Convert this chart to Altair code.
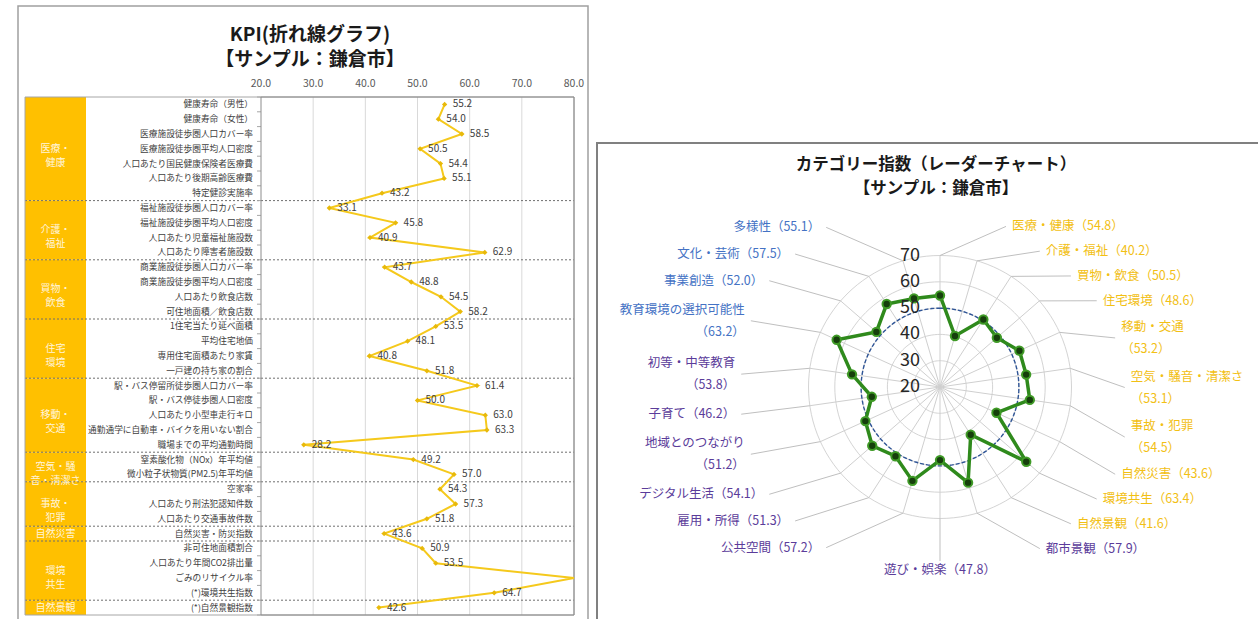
import altair as alt
import numpy as np
import pandas as pd

FONT = "Noto Sans CJK JP"

# ---------------- KPI line-chart data ----------------
KPI_GROUPS = ["医療・健康", "介護・福祉", "買物・飲食", "住宅環境", "移動・交通",
              "空気・騒音・清潔さ", "事故・犯罪", "自然災害", "環境共生", "自然景観"]
KPI_GROUP_LABELS = ["医療・\n健康", "介護・\n福祉", "買物・\n飲食", "住宅\n環境", "移動・\n交通",
                    "空気・騒\n音・清潔さ", "事故・\n犯罪", "自然災害", "環境\n共生", "自然景観"]
KPI_GROUP_SIZES = [7, 4, 4, 4, 5, 2, 3, 1, 4, 1]
KPI_INDICATORS = [
    "健康寿命（男性）", "健康寿命（女性）", "医療施設徒歩圏人口カバー率", "医療施設徒歩圏平均人口密度",
    "人口あたり国民健康保険者医療費", "人口あたり後期高齢医療費", "特定健診実施率",
    "福祉施設徒歩圏人口カバー率", "福祉施設徒歩圏平均人口密度", "人口あたり児童福祉施設数", "人口あたり障害者施設数",
    "商業施設徒歩圏人口カバー率", "商業施設徒歩圏平均人口密度", "人口あたり飲食店数", "可住地面積／飲食店数",
    "1住宅当たり延べ面積", "平均住宅地価", "専用住宅面積あたり家賃", "一戸建の持ち家の割合",
    "駅・バス停留所徒歩圏人口カバー率", "駅・バス停徒歩圏人口密度", "人口あたり小型車走行キロ",
    "通勤通学に自動車・バイクを用いない割合", "職場までの平均通勤時間",
    "窒素酸化物（NOx）年平均値", "微小粒子状物質(PM2.5)年平均値",
    "空家率", "人口あたり刑法犯認知件数", "人口あたり交通事故件数",
    "自然災害・防災指数",
    "非可住地面積割合", "人口あたり年間CO2排出量", "ごみのリサイクル率", "(*)環境共生指数",
    "(*)自然景観指数"]
KPI_VALUES = [55.2, 54.0, 58.5, 50.5, 54.4, 55.1, 43.2,
              33.1, 45.8, 40.9, 62.9,
              43.7, 48.8, 54.5, 58.2,
              53.5, 48.1, 40.8, 51.8,
              61.4, 50.0, 63.0, 63.3, 28.2,
              49.2, 57.0,
              54.3, 57.3, 51.8,
              43.6,
              50.9, 53.5, 88.0, 64.7,
              42.6]
KPI_TICKS = [20, 30, 40, 50, 60, 70, 80]

# ---------------- radar data ----------------
RADAR_NAMES = ["医療・健康", "介護・福祉", "買物・飲食", "住宅環境", "移動・交通", "空気・騒音・清潔さ",
               "事故・犯罪", "自然災害", "環境共生", "自然景観", "都市景観", "遊び・娯楽", "公共空間",
               "雇用・所得", "デジタル生活", "地域とのつながり", "子育て", "初等・中等教育",
               "教育環境の選択可能性", "事業創造", "文化・芸術", "多様性"]
RADAR_VALUES = [54.8, 40.2, 50.5, 48.6, 53.2, 53.1, 54.5, 43.6, 63.4, 41.6, 57.9, 47.8, 57.2,
                51.3, 54.1, 51.2, 46.2, 53.8, 63.2, 52.0, 57.5, 55.1]
RADAR_GROUPS = ["A", "A", "A", "A", "A", "A", "A", "A", "A", "A", "B", "B", "B",
                "B", "B", "B", "B", "B", "C", "C", "C", "C"]
RADAR_WRAPPED = ["移動・交通", "空気・騒音・清潔さ", "事故・犯罪", "地域とのつながり",
                 "初等・中等教育", "教育環境の選択可能性"]
RADAR_TICKS = [20, 30, 40, 50, 60, 70]
RADAR_AVERAGE = 50

# ---------------- layout / styles ----------------
W, H = 1258, 619
K_X20, K_X80 = 261, 574
T_TOP, T_BOTTOM = 97, 615
T_LEFT = 25
BLOCK_RIGHT = 86
LABEL_RIGHT = 253
AXIS_LABEL_Y = 84

CX, CY = 940, 387
PPU = 2.63
R_MIN = RADAR_TICKS[0]
R_SPAN = RADAR_TICKS[-1] - R_MIN
COL_TOP, COL_BOTTOM, LBL_BOTTOM_CENTER = 214, 561, 570
LINE_H = 22

ORANGE = "#FFC000"
KPI_LINE = "#F5C91C"
KPI_POINT = "#E8B90A"
GREEN = "#2F8A1C"
GROUP_COLORS = {"A": "#F2C014", "B": "#5B3C9A", "C": "#4472C4"}

# ---------------- frames ----------------
kpi_x = alt.Scale(domain=[KPI_TICKS[0], KPI_TICKS[-1]], range=[K_X20, K_X80],
                  clamp=True, nice=False, zero=False)
n_rows = len(KPI_INDICATORS)
row_y = alt.Scale(domain=[-0.5, n_rows - 0.5], range=[T_TOP, T_BOTTOM], nice=False, zero=False)

one = pd.DataFrame({"a": [0]})

left_frame = alt.Chart(one).mark_rect(fill="white", stroke="#a0a0a0", strokeWidth=1.5).encode(
    x=alt.value(18), x2=alt.value(588), y=alt.value(6), y2=alt.value(630))
right_frame = alt.Chart(one).mark_rect(fill="white", stroke="#808080", strokeWidth=2).encode(
    x=alt.value(597), x2=alt.value(1264), y=alt.value(143), y2=alt.value(630))

# ---------------- KPI data frames ----------------
kpi_df = pd.DataFrame({
    "row": np.arange(n_rows),
    "indicator": KPI_INDICATORS,
    "value": KPI_VALUES,
    "group": np.repeat(KPI_GROUPS, KPI_GROUP_SIZES),
})
sizes = np.array(KPI_GROUP_SIZES)
starts = np.concatenate([[0], np.cumsum(sizes)[:-1]])
ends = starts + sizes - 1
groups_df = pd.DataFrame({
    "group": KPI_GROUPS, "label": KPI_GROUP_LABELS,
    "y0": starts - 0.5, "y1": ends + 0.5, "mid": (starts + ends) / 2.0,
    "start": starts,
})
ticks_df = pd.DataFrame({"tick": KPI_TICKS})
bounds_df = pd.DataFrame({"b": np.arange(n_rows + 1) - 0.5})

blocks = alt.Chart(groups_df).mark_rect(color=ORANGE).encode(
    x=alt.value(T_LEFT), x2=alt.value(BLOCK_RIGHT),
    y=alt.Y("y0:Q", scale=row_y, axis=None), y2="y1:Q")
block_text = alt.Chart(groups_df).mark_text(
    color="white", fontSize=10, lineBreak="\n", font=FONT, lineHeight=14, opacity=0.85).encode(
    x=alt.value((T_LEFT + BLOCK_RIGHT) / 2), y=alt.Y("mid:Q", scale=row_y, axis=None), text="label:N")

grid = alt.Chart(ticks_df).transform_filter(
    "datum.tick > %d && datum.tick < %d" % (KPI_TICKS[0], KPI_TICKS[-1])).mark_rule(
    color="#d9d9d9", strokeWidth=1).encode(
    x=alt.X("tick:Q", scale=kpi_x, axis=None), y=alt.value(T_TOP), y2=alt.value(T_BOTTOM))
tick_text = alt.Chart(ticks_df).mark_text(fontSize=10.5, color="#595959", font=FONT).encode(
    x=alt.X("tick:Q", scale=kpi_x, axis=None), y=alt.value(AXIS_LABEL_Y),
    text=alt.Text("tick:Q", format=".1f"))
row_ticks = alt.Chart(bounds_df).mark_rule(color="#a6a6a6").encode(
    x=alt.value(K_X20 - 4), x2=alt.value(K_X20),
    y=alt.Y("b:Q", scale=row_y, axis=None))
table_box = alt.Chart(one).mark_rect(fillOpacity=0, fill="white", stroke="#a6a6a6", strokeWidth=1).encode(
    x=alt.value(T_LEFT), x2=alt.value(K_X80), y=alt.value(T_TOP), y2=alt.value(T_BOTTOM))
plot_box = alt.Chart(one).mark_rect(fillOpacity=0, fill="white", stroke="#8c8c8c", strokeWidth=1).encode(
    x=alt.value(K_X20), x2=alt.value(K_X80), y=alt.value(T_TOP), y2=alt.value(T_BOTTOM))
separators = alt.Chart(groups_df).transform_filter("datum.start > 0").mark_rule(
    color="#6f6f6f", strokeDash=[2, 2], strokeWidth=1).encode(
    y=alt.Y("y0:Q", scale=row_y, axis=None), x=alt.value(T_LEFT), x2=alt.value(K_X80))
indicator_text = alt.Chart(kpi_df).mark_text(
    align="right", fontSize=8.7, color="#404040", font=FONT).encode(
    x=alt.value(LABEL_RIGHT), y=alt.Y("row:Q", scale=row_y, axis=None), text="indicator:N")
kpi_line = alt.Chart(kpi_df).mark_line(color=KPI_LINE, strokeWidth=2).encode(
    x=alt.X("value:Q", scale=kpi_x, axis=None), y=alt.Y("row:Q", scale=row_y, axis=None),
    order="row:Q")
kpi_points = alt.Chart(kpi_df).transform_filter("datum.value <= 80").mark_point(
    shape="diamond", filled=True, size=28, color=KPI_POINT, opacity=1).encode(
    x=alt.X("value:Q", scale=kpi_x, axis=None), y=alt.Y("row:Q", scale=row_y, axis=None))
kpi_values = alt.Chart(kpi_df).transform_filter("datum.value <= 80").mark_text(
    align="left", dx=8, fontSize=10, color="#404040", font=FONT).encode(
    x=alt.X("value:Q", scale=kpi_x, axis=None), y=alt.Y("row:Q", scale=row_y, axis=None),
    text=alt.Text("value:Q", format=".1f"))

kpi_title = alt.Chart(pd.DataFrame({"t": ["KPI(折れ線グラフ)", "【サンプル：鎌倉市】"],
                                    "k": [0, 1]})).mark_text(
    fontSize=19, fontWeight="bold", font=FONT, color="#1a1a1a").encode(
    x=alt.value(310), y=alt.Y("k:Q", scale=alt.Scale(domain=[0, 1], range=[35, 60]), axis=None),
    text="t:N")

# ---------------- radar ----------------
rx = alt.Scale(domain=[-R_SPAN, R_SPAN], range=[CX - R_SPAN * PPU, CX + R_SPAN * PPU],
               nice=False, zero=False)
ry = alt.Scale(domain=[-R_SPAN, R_SPAN], range=[CY + R_SPAN * PPU, CY - R_SPAN * PPU],
               nice=False, zero=False)

n = len(RADAR_NAMES)
theta = np.arange(n) * 2 * np.pi / n
r = np.array(RADAR_VALUES) - R_MIN
s, c = np.sin(theta), np.cos(theta)
radar_df = pd.DataFrame({
    "idx": np.arange(n), "name": RADAR_NAMES, "value": RADAR_VALUES, "group": RADAR_GROUPS,
    "px": r * s, "py": r * c, "zero": 0.0,
    "sx": R_SPAN * s, "sy": R_SPAN * c,
})
radar_df["label"] = [nm + ("\n" if nm in RADAR_WRAPPED else "") + "（%.1f）" % v
                     for nm, v in zip(RADAR_NAMES, RADAR_VALUES)]
lines = np.array([2 if nm in RADAR_WRAPPED else 1 for nm in RADAR_NAMES], dtype=float)

# label layout: right column (left aligned), bottom centre, left column (right aligned)
side = np.where(c < -0.99, "center", np.where(s >= -1e-9, "left", "right"))
lx_px = np.where(side == "center", CX,
                 np.where(side == "left", CX + 72 + 120 * np.abs(s), CX - 86 - 120 * np.abs(s)))
ly_px = np.full(n, float(LBL_BOTTOM_CENTER))


def column(idxs):
    idxs = np.array(idxs)
    h = lines[idxs]
    unit = (COL_BOTTOM - COL_TOP) / h.sum()
    ly_px[idxs] = COL_TOP + (np.cumsum(h) - h / 2) * unit


column([i for i in range(n) if side[i] == "left"])
column([i for i in reversed(range(n)) if side[i] == "right"])
# first line's anchor so that a multi-line block is centred on its slot
text_y_px = ly_px - (lines - 1) * LINE_H / 2

radar_df["side"] = side
radar_df["lx"] = (lx_px - CX) / PPU
radar_df["ly"] = (CY - text_y_px) / PPU
gap = np.where(side == "left", -6, np.where(side == "right", 6, 0))
radar_df["ex"] = (lx_px + gap - CX) / PPU
radar_df["ey"] = (CY - (ly_px - np.where(side == "center", 9, 0))) / PPU

rings = []
for lvl in RADAR_TICKS[1:]:
    for d in range(0, 360, 3):
        a = np.deg2rad(d)
        rings.append({"level": lvl, "deg": d, "x": (lvl - R_MIN) * np.sin(a),
                      "y": (lvl - R_MIN) * np.cos(a)})
rings_df = pd.DataFrame(rings)

ring_lines = alt.Chart(rings_df).mark_line(
    interpolate="linear-closed", color="#d4d4d4", strokeWidth=1).encode(
    x=alt.X("x:Q", scale=rx, axis=None), y=alt.Y("y:Q", scale=ry, axis=None),
    detail="level:N", order="deg:Q")
avg_line = alt.Chart(rings_df).transform_filter("datum.level == %d" % RADAR_AVERAGE).mark_line(
    interpolate="linear-closed", color="#2F5597", strokeWidth=1.4, strokeDash=[4, 2]).encode(
    x=alt.X("x:Q", scale=rx, axis=None), y=alt.Y("y:Q", scale=ry, axis=None), order="deg:Q")
spokes = alt.Chart(radar_df).mark_rule(color="#cfcfcf", strokeWidth=1).encode(
    x=alt.X("zero:Q", scale=rx, axis=None), y=alt.Y("zero:Q", scale=ry, axis=None),
    x2="sx:Q", y2="sy:Q")
leaders = alt.Chart(radar_df).mark_rule(color="#bfbfbf", strokeWidth=1).encode(
    x=alt.X("sx:Q", scale=rx, axis=None), y=alt.Y("sy:Q", scale=ry, axis=None),
    x2="ex:Q", y2="ey:Q")
radar_line = alt.Chart(radar_df).mark_line(
    interpolate="linear-closed", color=GREEN, strokeWidth=3.5).encode(
    x=alt.X("px:Q", scale=rx, axis=None), y=alt.Y("py:Q", scale=ry, axis=None), order="idx:Q")
radar_points = alt.Chart(radar_df).mark_point(
    shape="circle", filled=True, size=70, color="#163f0c", stroke="#3f9a26", strokeWidth=2,
    opacity=1).encode(
    x=alt.X("px:Q", scale=rx, axis=None), y=alt.Y("py:Q", scale=ry, axis=None))

rticks_df = pd.DataFrame({"tick": RADAR_TICKS})
rticks_df["ty"] = rticks_df["tick"] - R_MIN
rticks_df["zero"] = 0.0
radar_ticks = alt.Chart(rticks_df).mark_text(
    align="right", baseline="middle", dx=-20, fontSize=18, color="#262626", font=FONT).encode(
    x=alt.X("zero:Q", scale=rx, axis=None), y=alt.Y("ty:Q", scale=ry, axis=None), text="tick:Q")

color_scale = alt.Scale(domain=list(GROUP_COLORS.keys()), range=list(GROUP_COLORS.values()))


def label_layer(align_side, align):
    return alt.Chart(radar_df).transform_filter(
        "datum.side == '%s'" % align_side).mark_text(
        align=align, baseline="middle", fontSize=12.5, lineBreak="\n", lineHeight=LINE_H,
        font=FONT).encode(
        x=alt.X("lx:Q", scale=rx, axis=None), y=alt.Y("ly:Q", scale=ry, axis=None),
        text="label:N", color=alt.Color("group:N", scale=color_scale, legend=None))


radar_title = alt.Chart(pd.DataFrame({"t": ["カテゴリー指数（レーダーチャート）", "【サンプル：鎌倉市】"],
                                      "k": [0, 1]})).mark_text(
    fontSize=16.5, fontWeight="bold", font=FONT, color="#1a1a1a").encode(
    x=alt.value(936), y=alt.Y("k:Q", scale=alt.Scale(domain=[0, 1], range=[165, 189]), axis=None),
    text="t:N")

layers = [left_frame, right_frame,
          blocks, grid, separators, row_ticks, table_box, plot_box, block_text, tick_text,
          indicator_text, kpi_line, kpi_points, kpi_values, kpi_title,
          ring_lines, spokes, leaders, avg_line, radar_line, radar_points, radar_ticks,
          label_layer("left", "left"), label_layer("right", "right"), label_layer("center", "center"),
          radar_title]

chart = alt.layer(*layers).resolve_scale(
    x="independent", y="independent", color="independent"
).properties(
    width=W, height=H, autosize=alt.AutoSizeParams(type="none"), padding=0, background="white"
).configure_view(stroke=None)

chart.save("out.html", embed_options={"renderer": "svg", "actions": False})
